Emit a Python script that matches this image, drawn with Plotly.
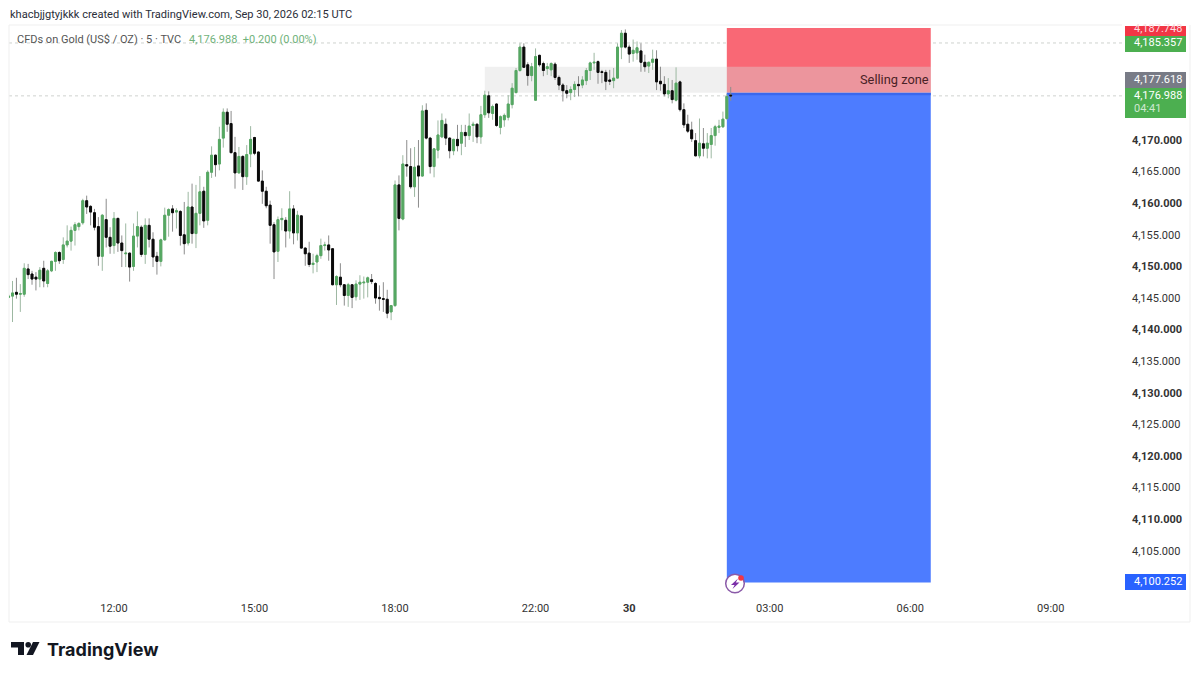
import plotly.graph_objects as go

bar_index = list(range(186))
opens = [4145.1,4145.3,4145.9,4145.6,4145.6,4149.6,4148.8,4148.3,4148.0,4149.7,
4147.3,4149.3,4150.8,4152.2,4151.1,4153.4,4154.0,4155.7,4156.3,4156.9,
4160.4,4159.5,4158.5,4156.3,4151.6,4157.4,4154.6,4153.3,4157.6,4153.7,
4152.0,4152.1,4150.0,4154.8,4156.2,4151.9,4156.5,4154.3,4151.6,4150.8,
4154.2,4158.1,4159.1,4158.6,4158.7,4155.0,4153.7,4159.4,4155.2,4158.4,
4161.9,4157.3,4164.9,4167.6,4166.2,4170.3,4174.4,4172.6,4168.0,4164.8,
4167.4,4164.2,4167.8,4170.4,4168.1,4163.5,4161.9,4159.7,4156.6,4152.4,
4157.4,4157.3,4155.6,4159.1,4155.3,4158.0,4152.9,4152.1,4150.3,4150.7,
4151.7,4153.3,4153.4,4152.8,4147.1,4148.3,4147.1,4145.4,4147.1,4145.2,
4147.2,4147.4,4147.5,4147.9,4147.3,4145.1,4144.9,4144.8,4142.8,4143.8,
4162.9,4157.5,4166.1,4165.8,4162.6,4165.9,4164.3,4174.7,4170.3,4165.8,
4168.4,4170.5,4172.5,4170.3,4168.3,4170.1,4169.5,4171.2,4170.7,4172.3,
4172.5,4170.5,4174.0,4177.0,4174.2,4175.7,4172.0,4173.2,4173.6,4175.6,
4177.5,4181.0,4184.7,4181.9,4180.2,4176.3,4183.4,4182.1,4181.3,4181.1,
4182.0,4179.9,4178.7,4177.8,4177.5,4178.0,4178.8,4178.7,4179.4,4181.0,
4182.2,4182.4,4180.8,4180.7,4179.5,4179.4,4179.8,4184.7,4186.9,4184.7,
4183.7,4183.8,4184.1,4182.3,4181.7,4182.3,4182.8,4179.3,4178.8,4177.3,
4177.8,4176.3,4179.2,4174.8,4172.5,4171.6,4169.9,4167.5,4169.4,4168.7,
4169.3,4170.7,4172.0,4172.1,4173.4,4177.1]
highs = [4145.6,4147.7,4148.2,4147.2,4150.5,4150.4,4149.3,4149.1,4149.9,4150.9,
4149.6,4150.9,4152.4,4152.4,4154.6,4156.5,4156.3,4157.0,4157.0,4160.7,
4161.2,4159.7,4159.1,4157.8,4158.3,4160.7,4156.2,4158.6,4157.7,4154.9,
4156.8,4152.2,4156.8,4158.7,4156.5,4157.6,4157.6,4155.4,4152.3,4154.4,
4159.3,4159.2,4159.7,4159.2,4158.9,4160.2,4161.8,4163.1,4162.9,4164.3,
4162.6,4165.2,4169.0,4167.7,4172.1,4175.0,4175.0,4174.6,4170.5,4168.9,
4167.6,4169.2,4172.2,4170.5,4168.2,4165.2,4162.6,4160.4,4157.0,4157.9,
4159.2,4157.8,4161.9,4159.7,4158.8,4158.1,4153.0,4153.9,4152.0,4152.0,
4154.4,4153.9,4154.9,4152.9,4148.6,4150.5,4147.2,4147.4,4147.2,4147.8,
4148.6,4148.4,4148.4,4148.8,4147.5,4147.0,4147.5,4146.3,4143.9,4163.6,
4164.4,4167.6,4170.0,4168.7,4168.9,4170.0,4175.5,4175.8,4170.5,4168.7,
4173.1,4174.2,4173.4,4170.4,4170.2,4172.4,4172.4,4172.4,4174.2,4172.9,
4172.6,4175.4,4177.8,4177.7,4175.6,4175.8,4173.9,4174.2,4177.1,4179.0,
4181.4,4185.3,4185.3,4182.3,4182.2,4184.5,4183.5,4182.4,4182.2,4182.3,
4182.3,4180.2,4179.0,4178.7,4178.5,4179.3,4180.1,4180.1,4181.4,4182.4,
4183.8,4182.6,4181.1,4181.1,4181.1,4181.4,4185.3,4187.4,4187.5,4185.1,
4185.9,4185.6,4185.3,4183.5,4182.4,4184.3,4184.2,4181.6,4180.1,4179.8,
4179.5,4181.5,4179.4,4175.8,4174.0,4172.9,4171.1,4173.4,4171.9,4171.1,
4171.9,4172.4,4173.2,4174.5,4177.3,4178.4]
lows = [4145.0,4141.2,4144.9,4142.8,4145.2,4148.0,4147.1,4146.2,4146.7,4146.7,
4146.7,4149.1,4149.3,4150.4,4150.4,4153.0,4152.5,4153.3,4155.7,4156.6,
4158.3,4156.5,4155.7,4150.1,4149.3,4153.0,4152.0,4152.0,4152.3,4149.9,
4149.9,4147.6,4149.3,4153.0,4151.5,4150.4,4153.0,4149.9,4148.7,4150.0,
4154.1,4154.7,4155.5,4156.0,4153.3,4151.9,4153.3,4153.6,4152.9,4156.5,
4156.1,4156.5,4164.0,4164.2,4165.2,4168.8,4171.3,4167.9,4162.3,4164.7,
4162.1,4162.9,4165.7,4167.6,4163.4,4159.9,4159.2,4153.6,4148.0,4150.7,
4155.7,4153.0,4154.4,4153.5,4154.1,4152.8,4150.1,4149.9,4148.9,4149.1,
4151.2,4152.5,4150.9,4147.0,4143.9,4146.7,4143.8,4143.6,4143.4,4144.6,
4144.7,4144.9,4145.1,4147.2,4144.1,4143.0,4142.8,4141.8,4141.5,4143.6,
4155.7,4157.3,4164.2,4162.3,4161.0,4159.3,4164.2,4170.1,4164.7,4164.1,
4167.1,4170.3,4169.2,4167.1,4167.6,4168.2,4167.6,4168.9,4170.0,4169.7,
4169.5,4169.4,4173.5,4173.5,4173.2,4172.1,4170.9,4172.1,4173.1,4175.0,
4177.4,4180.8,4181.4,4178.6,4179.3,4176.2,4181.6,4180.1,4180.3,4180.1,
4179.5,4177.9,4176.1,4176.6,4176.3,4176.8,4176.9,4178.2,4178.7,4179.5,
4181.1,4178.9,4179.0,4177.9,4178.7,4178.2,4179.7,4182.8,4184.5,4182.2,
4182.4,4182.7,4180.8,4180.8,4180.6,4181.1,4177.9,4177.8,4176.9,4176.6,
4175.8,4176.1,4174.5,4171.9,4171.1,4169.7,4167.4,4167.1,4167.4,4167.1,
4167.1,4169.1,4171.1,4171.9,4173.2,4176.2]
closes = [4145.3,4145.8,4145.6,4145.7,4149.7,4148.7,4148.0,4148.0,4149.4,4147.7,
4149.3,4150.8,4152.2,4150.9,4153.4,4154.0,4155.7,4156.6,4156.8,4160.4,
4159.4,4158.6,4156.2,4151.6,4158.1,4154.6,4153.2,4157.6,4153.7,4152.5,
4152.1,4149.9,4154.8,4156.3,4151.9,4156.5,4154.3,4151.5,4150.8,4154.2,
4158.1,4159.0,4158.5,4158.8,4154.9,4153.6,4159.4,4155.2,4158.4,4161.8,
4157.2,4164.9,4167.6,4166.1,4170.1,4174.4,4172.5,4168.0,4164.8,4167.4,
4164.2,4167.7,4170.1,4167.9,4163.5,4161.9,4159.6,4156.5,4152.3,4157.4,
4157.6,4155.6,4159.1,4155.3,4158.1,4152.9,4152.0,4150.3,4150.5,4151.7,
4153.3,4153.4,4152.6,4147.1,4148.4,4147.1,4145.4,4147.1,4145.1,4147.2,
4147.5,4147.5,4148.2,4147.6,4145.0,4144.9,4144.8,4142.6,4143.8,4162.9,
4157.6,4166.2,4165.9,4162.6,4165.7,4164.3,4174.6,4170.3,4165.8,4168.6,
4170.8,4173.1,4170.3,4168.3,4170.1,4169.1,4171.2,4170.7,4172.2,4172.5,
4170.5,4174.0,4177.1,4174.3,4175.3,4172.3,4173.7,4173.9,4175.7,4178.2,
4181.0,4184.7,4181.5,4180.2,4181.6,4183.2,4181.9,4181.0,4181.6,4182.1,
4179.9,4178.7,4177.8,4177.4,4178.0,4178.8,4178.6,4179.5,4181.0,4182.2,
4182.3,4180.7,4180.7,4179.3,4179.3,4179.8,4184.7,4186.9,4184.7,4183.6,
4184.2,4184.6,4182.3,4181.6,4182.3,4182.8,4179.2,4178.9,4177.3,4177.8,
4176.4,4179.0,4174.8,4172.4,4171.4,4170.2,4167.5,4169.5,4168.7,4169.5,
4170.7,4172.1,4172.2,4173.3,4176.9,4176.988]

time_ticks = [27, 63, 99, 135, 159, 195, 231, 267]
time_labels = ["12:00", "15:00", "18:00", "22:00", "<b>30</b>", "03:00", "06:00", "09:00"]
price_ticks = [4170, 4165, 4160, 4155, 4150, 4145, 4140, 4135, 4130, 4125, 4120, 4115, 4110, 4105]
price_labels = ["<b>4,170.000</b>", "4,165.000", "<b>4,160.000</b>", "4,155.000", "<b>4,150.000</b>",
                "4,145.000", "<b>4,140.000</b>", "4,135.000", "<b>4,130.000</b>", "4,125.000",
                "<b>4,120.000</b>", "4,115.000", "<b>4,110.000</b>", "4,105.000"]
box_top = 4187.72
box_mid = 4177.48
box_mid_edge = 4177.08
box_bottom = 4100.0
zone_top = 4181.6
last_price = 4176.988
prev_level = 4185.357
box_start, box_end, zone_start = 184.0, 236.25, 122.0

L, R, T, B = 9, 1123, 25, 597
W, H = 1200, 677
def px(x): return (x - L) / (R - L)
def py(y): return 1 - (y - T) / (B - T)

UP, DOWN = "#55a862", "#0a0a0a"
fig = go.Figure()
# wicks
fig.add_trace(go.Candlestick(
    x=bar_index, open=opens, high=highs, low=lows, close=closes,
    increasing=dict(line=dict(color="#9db8a2", width=1), fillcolor="#9db8a2"),
    decreasing=dict(line=dict(color="#8c8c8c", width=1), fillcolor="#8c8c8c"),
    whiskerwidth=0, hoverinfo="skip", showlegend=False))
# bodies
fig.add_trace(go.Candlestick(
    x=bar_index, open=opens, close=closes,
    high=[max(a, b) for a, b in zip(opens, closes)],
    low=[min(a, b) for a, b in zip(opens, closes)],
    increasing=dict(line=dict(color=UP, width=1), fillcolor=UP),
    decreasing=dict(line=dict(color=DOWN, width=1), fillcolor=DOWN),
    whiskerwidth=0, showlegend=False))

shapes = []
def rect_px(x0, y0, x1, y1, color, layer="above", **kw):
    shapes.append(dict(type="rect", xref="paper", yref="paper", x0=px(x0), x1=px(x1),
                       y0=py(y0), y1=py(y1), fillcolor=color, line=dict(width=0), layer=layer, **kw))
def path_px(pts, color, line=None):
    d = "M " + " L ".join(f"{px(a):.5f},{py(b):.5f}" for a, b in pts) + " Z"
    shapes.append(dict(type="path", xref="paper", yref="paper", path=d, fillcolor=color,
                       line=dict(width=0) if line is None else line, layer="above"))
def circle_px(cx, cy, r, fill, line=None):
    shapes.append(dict(type="circle", xref="paper", yref="paper", x0=px(cx-r), x1=px(cx+r),
                       y0=py(cy+r), y1=py(cy-r), fillcolor=fill,
                       line=dict(width=0) if line is None else line, layer="above"))
def hline_px(y0, x0, x1, y1=None):
    shapes.append(dict(type="line", xref="paper", yref="paper", x0=px(x0), x1=px(x1),
                       y0=py(y0), y1=py(y0 if y1 is None else y1),
                       line=dict(color="#efefef", width=1), layer="below"))

# dotted price lines
for lvl in (last_price, prev_level):
    shapes.append(dict(type="line", xref="paper", yref="y", x0=0, x1=1, y0=lvl, y1=lvl,
                       line=dict(color="#cfd2cf", width=1, dash="dot"), layer="below"))
# trade boxes
shapes.append(dict(type="rect", xref="x", yref="y", x0=box_start, x1=box_end, y0=box_mid, y1=box_top,
                   fillcolor="#f96875", line=dict(width=0), layer="below"))
shapes.append(dict(type="rect", xref="x", yref="y", x0=box_start, x1=box_end, y0=box_bottom, y1=box_mid,
                   fillcolor="#4d7cff", line=dict(width=0), layer="below"))
shapes.append(dict(type="rect", xref="x", yref="y", x0=box_start, x1=box_end, y0=box_mid_edge, y1=box_mid,
                   fillcolor="#3a68ee", line=dict(width=0), layer="below"))
shapes.append(dict(type="rect", xref="x", yref="y", x0=zone_start, x1=box_end, y0=box_mid, y1=zone_top,
                   fillcolor="rgba(217,217,217,0.4)", line=dict(width=0), layer="below"))
# frame
hline_px(25, 9, 1122)
hline_px(622, 9, 1190)
hline_px(25, 9, 9, 622)
hline_px(25, 1190, 1190, 622)
# price tags
rect_px(1125, 26, 1186, 36, "#f23645")
rect_px(1125, 36, 1186, 52, "#4caf50")
rect_px(1125, 72, 1186, 88, "#787b86")
rect_px(1125, 88, 1186, 118, "#4caf50")
rect_px(1125, 574, 1186, 590, "#2962ff")
# alert icon
circle_px(735, 583.5, 9.3, "#ffffff", dict(color="#8a5aa8", width=1.5))
path_px([(738, 578.5), (731, 585), (734.6, 585), (732.5, 589), (739.5, 582.5), (735.8, 582.5)], "#7b2fa8")
circle_px(741, 578, 2.8, "#f23645")
# logo
path_px([(11, 642), (24, 642), (24, 655), (18, 655), (18, 647.5), (11, 647.5)], "#131722")
circle_px(28.2, 644.8, 2.8, "#131722")
path_px([(33, 642), (39.5, 642), (33, 655), (26.5, 655)], "#131722")

ann = []
def text_px(x, y, s, size=11, color="#333333", anchor="left", family="Roboto"):
    ann.append(dict(xref="paper", yref="paper", x=px(x), y=py(y), text=s, showarrow=False,
                    xanchor=anchor, yanchor="middle", borderpad=0,
                    font=dict(family=family, size=size, color=color)))
text_px(8.5, 14, "khacbjjgtyjkkk created with TradingView.com, Sep 30, 2026 02:15 UTC", 11.05, "#2a2e39")
text_px(15.5, 39, "CFDs on Gold (US$ / OZ) · 5 · TVC", 11, "#555555")
text_px(187.5, 39, "4,176.988  +0.200 (0.00%)", 11, "#6fb27a")
text_px(1133, 29, "4,187.748", 11, "#fbdde0")
text_px(1133, 43, "4,185.357", 11, "#ffffff")
text_px(1133, 79.5, "4,177.618", 11, "#ffffff")
text_px(1133, 95, "4,176.988", 11, "#ffffff")
text_px(1133, 108, "04:41", 11, "#cfe8d0")
text_px(1133, 581, "4,100.252", 11, "#ffffff")
text_px(930, 79.5, "Selling zone", 12.8, "#4a2226", "right")
text_px(46, 649, "<b>TradingView</b>", 18, "#131722", family="Inter")
fig.update_layout(
    width=W, height=H, autosize=False,
    margin=dict(l=L, r=W - R, t=T, b=H - B, pad=0),
    paper_bgcolor="#ffffff", plot_bgcolor="#ffffff",
    showlegend=False, shapes=shapes, annotations=ann,
    font=dict(family="Roboto", size=11, color="#333333"),
    xaxis=dict(range=[0.1, 285.5], rangeslider=dict(visible=False), showgrid=False, zeroline=False,
               showline=False, tickmode="array", tickvals=time_ticks, ticktext=time_labels,
               ticks="", tickfont=dict(family="Roboto", size=11, color="#333333"), ticklabelstandoff=3),
    yaxis=dict(range=[4097.69, 4188.2], side="right", showgrid=False, zeroline=False, showline=False,
               tickmode="array", tickvals=price_ticks, ticktext=price_labels,
               ticks="", tickfont=dict(family="Roboto", size=11, color="#333333"), ticklabelstandoff=8),
)
fig.write_html("out.html", config={"displayModeBar": False},
               post_script="document.body.style.margin='0';document.body.style.overflow='hidden';")
